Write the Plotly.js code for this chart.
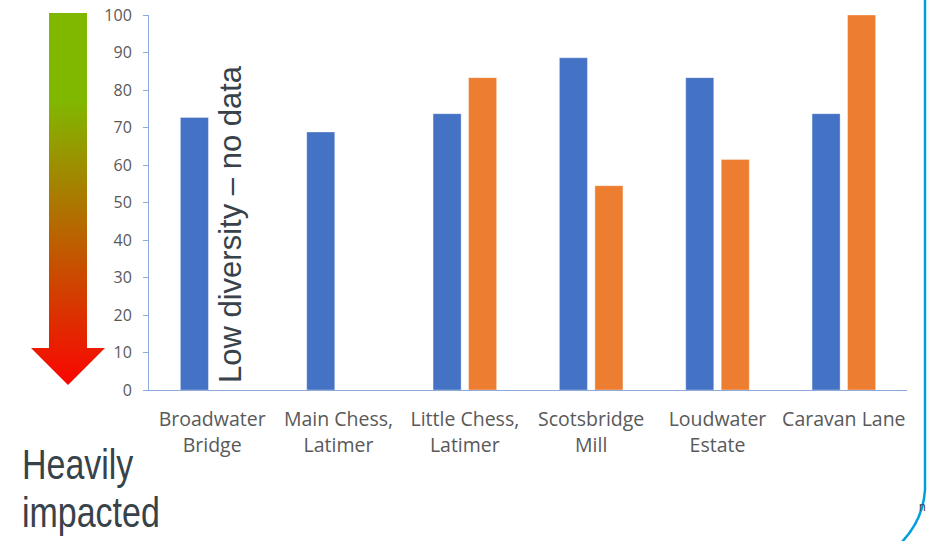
<!DOCTYPE html>
<html>
<head>
<meta charset="utf-8">
<script src="https://cdn.plot.ly/plotly-3.0.1.min.js"></script>
<style>
  html, body { margin: 0; padding: 0; background: #ffffff; }
  #chart { width: 927px; height: 541px; }
</style>
</head>
<body>
<div id="chart"></div>
<script>
// Sites along the river, left to right
const sites = [
  'Broadwater<br>Bridge',
  'Main Chess,<br>Latimer',
  'Little Chess,<br>Latimer',
  'Scotsbridge<br>Mill',
  'Loudwater<br>Estate',
  'Caravan Lane'
];

// Two survey series (null = no score for that site)
const seriesA = [72.7, 68.8, 73.7, 88.6, 83.3, 73.7];
const seriesB = [null, null, 83.3, 54.5, 61.5, 100];

const yTicks = [0, 10, 20, 30, 40, 50, 60, 70, 80, 90, 100];

// Figure geometry (pixels)
const W = 927, H = 541;
const M = { l: 0, r: 20, t: 10, b: 151 };
const PW = W - M.l - M.r;   // 907
const PH = H - M.t - M.b;   // 380
const axisLeftPx = 149;
const valueTopPx = 15;

// Down-pointing arrow outline, in pixel units of its own helper axes
const arrowX = [49, 87, 87, 105, 68, 31, 49, 49];
const arrowY = [13, 13, 348, 348, 385, 348, 348, 13];

const px = x => (x - M.l) / PW;
const py = y => (M.t + PH - y) / PH;

const axisColor = '#8eaadb';
const labelColor = '#595959';
const noteColor = '#37424a';
const narrowFont = '"Liberation Sans", Arial, sans-serif';

const traces = [
  {
    type: 'bar', x: sites, y: seriesA, name: 'A',
    marker: { color: '#4472c4', line: { color: 'rgba(255,255,255,0.35)', width: 1 } },
    hoverinfo: 'x+y'
  },
  {
    type: 'bar', x: sites, y: seriesB, name: 'B',
    marker: { color: '#ed7d31', line: { color: 'rgba(255,255,255,0.35)', width: 1 } },
    hoverinfo: 'x+y'
  },
  {
    type: 'scatter', mode: 'lines', x: arrowX, y: arrowY,
    xaxis: 'x2', yaxis: 'y2',
    fill: 'toself',
    line: { width: 0, color: 'rgba(0,0,0,0)' },
    fillgradient: {
      type: 'vertical',
      start: 385, stop: 13,
      colorscale: [[0, '#fa0500'], [0.766, '#80b800'], [1, '#80b800']]
    },
    hoverinfo: 'skip', showlegend: false
  }
];

const framePath =
  `M ${px(925)},${py(-5)} L ${px(925)},${py(490)} Q ${px(923)},${py(522)} ${px(898)},${py(546)}`;

const layout = {
  width: W, height: H,
  margin: M,
  paper_bgcolor: '#ffffff',
  plot_bgcolor: 'rgba(0,0,0,0)',
  showlegend: false,
  barmode: 'group',
  bargap: 0.438,
  bargroupgap: 0.21,
  font: { family: '"Open Sans", sans-serif', color: labelColor },
  xaxis: {
    domain: [axisLeftPx / PW, 1],
    showline: true, linecolor: axisColor, linewidth: 1,
    ticks: '', showgrid: false, zeroline: false,
    tickfont: { family: '"Open Sans", sans-serif', size: 19.5, color: labelColor },
    ticklabelstandoff: 12,
    tickangle: 0,
    fixedrange: true
  },
  yaxis: {
    domain: [0, (M.t + PH - valueTopPx) / PH],
    range: [0, 100],
    tickvals: yTicks,
    showline: true, linecolor: axisColor, linewidth: 1,
    ticks: 'outside', ticklen: 5, tickcolor: axisColor, tickwidth: 1,
    ticklabelstandoff: 8,
    showgrid: false, zeroline: false,
    tickfont: { family: '"Open Sans", sans-serif', size: 16, color: labelColor },
    fixedrange: true
  },
  xaxis2: {
    domain: [0, 120 / PW], range: [0, 120], anchor: 'y2',
    visible: false, fixedrange: true
  },
  yaxis2: {
    domain: [0, 1], range: [390, 10], anchor: 'x2',
    visible: false, fixedrange: true
  },
  shapes: [
    {
      type: 'path', xref: 'paper', yref: 'paper', path: framePath,
      line: { color: '#00a0dc', width: 2.5 }, layer: 'above'
    }
  ],
  annotations: [
    {
      text: 'Low diversity \u2013 no data', textangle: -90,
      xref: 'paper', yref: 'paper', x: px(230), y: py(224),
      xanchor: 'center', yanchor: 'middle', showarrow: false,
      font: { family: '"Liberation Sans", Arial, sans-serif', size: 31, color: noteColor }
    },
    {
      text: 'Heavily',
      xref: 'paper', yref: 'paper', x: px(20), y: py(464),
      xanchor: 'left', yanchor: 'middle', showarrow: false,
      font: { family: narrowFont, size: 43, color: noteColor }
    },
    {
      text: 'impacted',
      xref: 'paper', yref: 'paper', x: px(20), y: py(512),
      xanchor: 'left', yanchor: 'middle', showarrow: false,
      font: { family: narrowFont, size: 43, color: noteColor }
    },
    {
      text: 'n',
      xref: 'paper', yref: 'paper', x: px(917), y: py(507),
      xanchor: 'left', yanchor: 'middle', showarrow: false,
      font: { family: '"Liberation Sans", sans-serif', size: 12, color: '#404040' }
    }
  ]
};

// Condense the two-line caption horizontally (narrow face look)
function condenseCaption(gd) {
  gd.querySelectorAll('text.annotation-text').forEach(t => {
    const s = t.getAttribute('data-unformatted');
    if (s === 'Heavily' || s === 'impacted') {
      const bb = t.getBBox();
      const x0 = bb.x;
      t.setAttribute('transform',
        `translate(${x0},0) scale(0.79,1) translate(${-x0},0)`);
    }
  });
}

Plotly.newPlot('chart', traces, layout, { displayModeBar: false, staticPlot: true })
  .then(condenseCaption);
</script>
</body>
</html>
